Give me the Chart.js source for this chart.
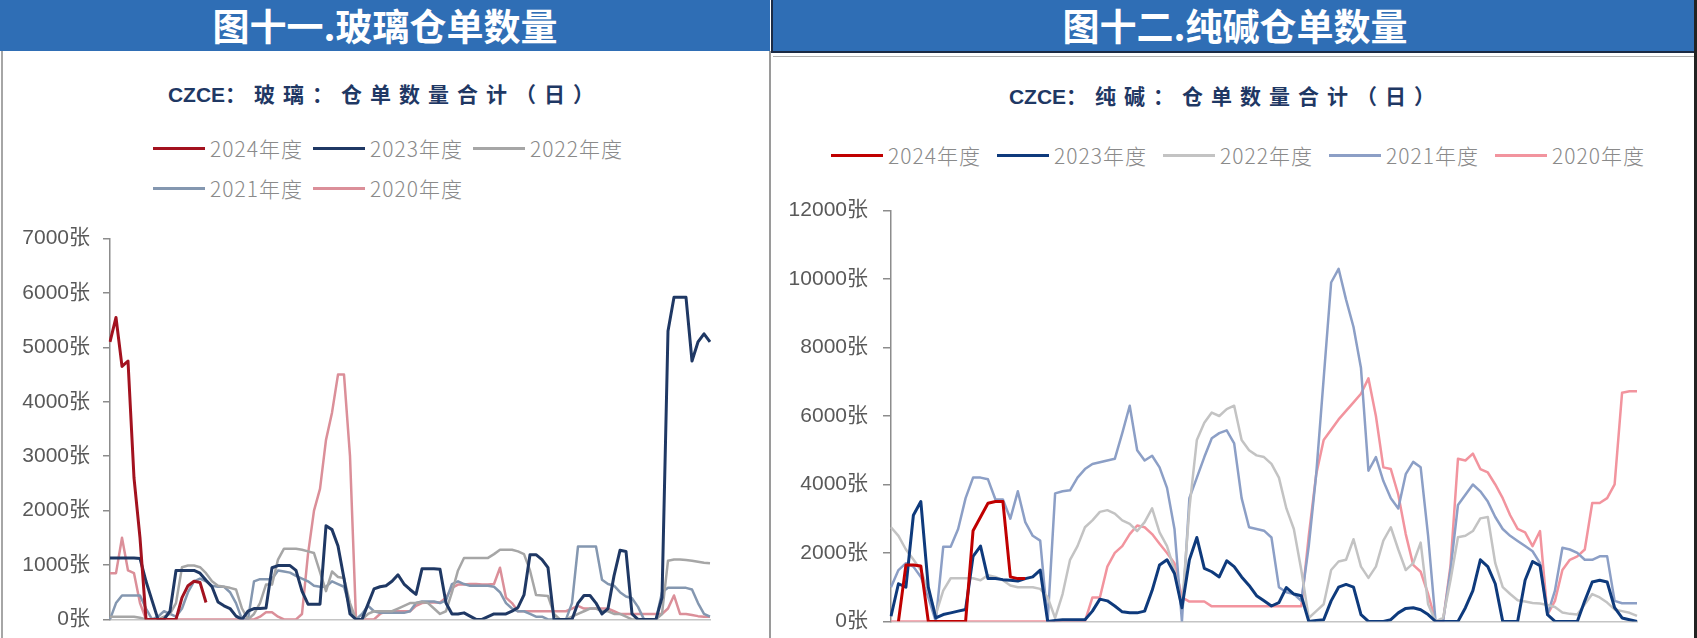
<!DOCTYPE html>
<html>
<head>
<meta charset="utf-8">
<script src="https://cdn.jsdelivr.net/npm/chart.js@4.4.1/dist/chart.umd.min.js"></script>
<style>
  html, body { margin: 0; padding: 0; background: #fff; }
  body { width: 1697px; height: 638px; overflow: hidden; position: relative; font-family: "Noto Sans CJK SC", sans-serif; }
  .hdr { position: absolute; top: 0; height: 51px; background: #2F6EB5; color: #fff; font-weight: 700; font-size: 37px; line-height: 51px; text-align: center; }
  .rule { position: absolute; }
  .ttl { position: absolute; text-align: center; color: #1F3864; font-weight: 700; font-size: 21px; letter-spacing: 8px; line-height: 26px; }
  .ttl .lat { letter-spacing: 0; font-family: "Liberation Sans", sans-serif; }
  .leg { position: absolute; display: flex; flex-wrap: wrap; }
  .leg .item { display: flex; align-items: center; height: 40px; color: #8a8a8a; font-size: 21px; font-weight: 300; letter-spacing: 1px; }
  .leg .mark { display: inline-block; width: 52px; height: 3px; margin-right: 5px; }
  canvas { position: absolute; }
</style>
</head>
<body>
<div class="hdr" style="left:0;width:770px;">图十一.玻璃仓单数量</div>
<div class="hdr" style="left:771px;width:924px;border-left:2px solid #1c2b45;border-bottom:2px solid #1c2b45;">图十二.纯碱仓单数量</div>
<div class="rule" style="left:1px;top:51px;width:2px;height:600px;background:#a6a6a6;"></div>
<div class="rule" style="left:769px;top:51px;width:2px;height:600px;background:#9a9a9a;"></div>
<div class="rule" style="left:773px;top:56px;width:921px;height:1px;background:#b0b0b0;"></div>
<div class="rule" style="left:1694px;top:0;width:3px;height:638px;background:#222;"></div>

<div class="ttl" style="left:0;width:770px;top:80px;"><span class="lat">CZCE</span>：玻璃：仓单数量合计（日）</div>
<div class="ttl" style="left:771px;width:910px;top:82px;"><span class="lat">CZCE</span>：纯碱：仓单数量合计（日）</div>

<canvas id="glass" width="767" height="432" style="left:3px;top:213px;width:767px;height:432px;"></canvas>
<canvas id="soda" width="922" height="466" style="left:773px;top:183px;width:922px;height:466px;"></canvas>

<div class="leg" id="legGlass" style="left:153px;top:128px;width:480px;"></div>
<div class="leg" id="legSoda" style="left:831px;top:135px;width:840px;"></div>

<script>
// x positions: evenly spaced sample points through the season (axis labels are cropped in the source)
const glassDays = Array.from({ length: 101 }, (_, i) => i + 1);
const sodaDays = Array.from({ length: 101 }, (_, i) => i + 1);

// 玻璃 仓单数量 (张)
const glass2024 = [5100, 5550, 4650, 4750, 2600, 1500, 0, 0, 0, 0,
  0, 0, 400, 620, 700, 680, 310];
const glass2023 = [1130, 1130, 1130, 1130, 1130, 1120, 700, 350, 0, 0,
  150, 900, 900, 900, 900, 850, 720, 600, 320, 250,
  200, 60, 0, 150, 200, 200, 210, 950, 990, 990,
  990, 900, 520, 280, 280, 280, 1720, 1650, 1350, 750,
  100, 0, 0, 280, 560, 600, 620, 700, 820, 650,
  550, 460, 930, 930, 930, 920, 300, 100, 100, 120,
  60, 0, 0, 50, 100, 100, 100, 150, 220, 450,
  1190, 1190, 1100, 950, 0, 0, 0, 0, 300, 440,
  440, 300, 100, 200, 800, 1270, 1250, 100, 0, 0,
  0, 0, 400, 5300, 5920, 5920, 5920, 4750, 5100, 5250, 5100];
const glass2022 = [50, 50, 50, 50, 50, 30, 0, 0, 0, 50,
  100, 300, 960, 990, 990, 960, 850, 700, 620, 600,
  580, 550, 200, 0, 100, 300, 640, 640, 1100, 1300,
  1300, 1300, 1280, 1250, 1220, 870, 520, 880, 780, 760,
  300, 0, 0, 100, 150, 150, 150, 150, 200, 250,
  300, 300, 320, 300, 200, 100, 150, 500, 900, 1130,
  1130, 1130, 1130, 1130, 1200, 1280, 1280, 1280, 1250, 1200,
  900, 450, 440, 430, 100, 0, 0, 50, 100, 150,
  200, 200, 150, 150, 100, 100, 50, 0, 0, 0,
  0, 0, 100, 1080, 1100, 1100, 1090, 1080, 1060, 1040, 1030];
const glass2021 = [0, 300, 440, 440, 440, 440, 200, 0, 50, 150,
  100, 50, 200, 500, 700, 750, 700, 620, 600, 600,
  500, 300, 0, 0, 700, 740, 740, 740, 900, 880,
  860, 800, 750, 700, 620, 600, 600, 700, 650, 600,
  200, 0, 100, 250, 150, 120, 120, 120, 120, 120,
  150, 300, 330, 330, 330, 300, 350, 650, 700, 650,
  620, 620, 620, 620, 600, 500, 300, 200, 150, 150,
  100, 50, 50, 0, 0, 0, 0, 300, 1340, 1340,
  1340, 1340, 730, 650, 620, 500, 420, 390, 230, 0,
  0, 0, 500, 580, 580, 580, 580, 550, 300, 100, 50];
const glass2020 = [850, 850, 1500, 900, 850, 300, 0, 0, 0, 0,
  0, 0, 0, 0, 0, 0, 0, 0, 0, 0,
  0, 0, 0, 0, 0, 50, 130, 130, 50, 0,
  0, 0, 100, 1200, 2000, 2400, 3300, 3800, 4500, 4500,
  3000, 0, 0, 0, 0, 100, 150, 150, 150, 150,
  150, 250, 300, 310, 310, 310, 400, 580, 640, 640,
  650, 650, 640, 640, 650, 950, 400, 300, 150, 150,
  150, 150, 150, 150, 150, 150, 150, 200, 250, 200,
  200, 200, 200, 200, 150, 100, 100, 100, 100, 100,
  100, 100, 100, 200, 440, 100, 100, 80, 60, 50, 50];

// 纯碱 仓单数量 (张)
const soda2024 = [null, 0, 1650, 1650, 1620, 0, 0, 0, 0, 0,
  0, 2650, 3050, 3450, 3500, 3500, 1300, 1250, 1250];
const soda2023 = [150, 1100, 1000, 3100, 3500, 1000, 100, 200, 250, 300,
  350, 1900, 2200, 1250, 1250, 1220, 1200, 1180, 1250, 1300,
  1500, 0, 30, 50, 50, 50, 50, 300, 650, 600,
  450, 280, 250, 250, 300, 900, 1650, 1800, 1400, 400,
  1800, 2450, 1550, 1450, 1300, 1770, 1600, 1300, 1050, 750,
  600, 450, 550, 990, 800, 750, 0, 30, 50, 600,
  1000, 1080, 1000, 200, 0, 0, 0, 50, 250, 380,
  400, 340, 200, 0, 0, 0, 0, 400, 900, 1800,
  1600, 1100, 0, 0, 0, 1200, 1750, 1630, 200, 0,
  0, 0, 0, 600, 1150, 1200, 1150, 400, 100, 50, 0];
const soda2022 = [2750, 2500, 2100, 1810, 1500, 900, 200, 900, 1260, 1260,
  1260, 1260, 1200, 1350, 1300, 1200, 1050, 1000, 1000, 1000,
  950, 700, 100, 800, 1800, 2200, 2750, 2950, 3200, 3250,
  3150, 2950, 2850, 2640, 2900, 3300, 2600, 2200, 1500, 400,
  3300, 5300, 5800, 6100, 6000, 6200, 6300, 5300, 5000, 4850,
  4800, 4600, 4200, 3300, 2700, 1500, 100, 300, 500, 1500,
  1750, 1800, 2400, 1600, 1270, 1600, 2360, 2750, 2100, 1500,
  1700, 2300, 500, 0, 100, 1200, 2460, 2500, 2640, 3010,
  3050, 1700, 1000, 800, 620, 580, 540, 520, 480, 420,
  260, 220, 200, 500, 800, 700, 550, 350, 300, 250, 160];
const soda2021 = [1000, 1500, 1700, 1600, 1300, 700, 0, 2180, 2180, 2700,
  3600, 4200, 4200, 4150, 3560, 3560, 3000, 3800, 2900, 2500,
  2360, 0, 3740, 3800, 3830, 4200, 4450, 4600, 4650, 4700,
  4750, 5500, 6300, 5000, 4700, 4840, 4500, 3900, 2700, 0,
  3600, 4200, 4800, 5350, 5500, 5580, 5200, 3600, 2750, 2700,
  2650, 2450, 1000, 850, 800, 600, 2200, 4300, 7100, 9900,
  10300, 9400, 8600, 7400, 4400, 4800, 4100, 3600, 3300, 4300,
  4660, 4500, 2500, 0, 0, 1500, 3400, 3700, 4000, 3800,
  3500, 3050, 2700, 2500, 2350, 2200, 2050, 1700, 200, 900,
  2150, 2100, 2000, 1800, 1800, 1900, 1900, 600, 530, 530, 530];
const soda2020 = [0, 0, 0, 0, 0, 0, 0, 0, 0, 0,
  0, 0, 0, 0, 0, 0, 0, 0, 0, 0,
  0, 0, 0, 0, 0, 0, 0, 700, 700, 1600,
  2000, 2200, 2550, 2800, 2750, 2550, 2270, 2000, 1700, 700,
  580, 580, 580, 440, 440, 440, 440, 440, 440, 440,
  440, 440, 440, 440, 440, 440, 2500, 4300, 5300, 5600,
  5900, 6150, 6400, 6650, 7100, 6000, 4500, 4450, 3700, 2550,
  1650, 1450, 800, 0, 0, 1630, 4750, 4700, 4900, 4450,
  4350, 4000, 3600, 3100, 2700, 2600, 2200, 2640, 200, 600,
  1500, 1800, 1900, 2100, 3460, 3460, 3600, 4000, 6680, 6720, 6720];

const seriesNames = ['2024年度', '2023年度', '2022年度', '2021年度', '2020年度'];

const glassSeries = [
  { data: glass2024, color: '#A3121F', width: 3 },
  { data: glass2023, color: '#1F3864', width: 3 },
  { data: glass2022, color: '#A6A6A6', width: 2.5 },
  { data: glass2021, color: '#8497B0', width: 2.5 },
  { data: glass2020, color: '#DB8F99', width: 2.5 }
];
const sodaSeries = [
  { data: soda2024, color: '#C00000', width: 3 },
  { data: soda2023, color: '#0E3A7C', width: 3 },
  { data: soda2022, color: '#C3C3C3', width: 2.5 },
  { data: soda2021, color: '#8C9FC6', width: 2.5 },
  { data: soda2020, color: '#F2949E', width: 2.5 }
];

const tickFont = { family: '"Liberation Sans", "Noto Sans CJK SC", sans-serif', size: 21 };

function makeChart(id, labels, series, yMax, yStep, axisWidth, padRight, tickLen, tickPad) {
  return new Chart(document.getElementById(id), {
    type: 'line',
    data: {
      labels: labels,
      datasets: series.map((s, i) => ({
        label: seriesNames[i],
        data: s.data,
        borderColor: s.color,
        backgroundColor: s.color,
        borderWidth: s.width,
        borderJoinStyle: 'round',
        pointRadius: 0,
        tension: 0,
        spanGaps: false
      }))
    },
    options: {
      responsive: false,
      animation: false,
      events: [],
      layout: { padding: { top: 20, right: padRight, bottom: 0, left: 0 } },
      plugins: { legend: { display: false }, tooltip: { enabled: false } },
      scales: {
        x: {
          ticks: { display: false },
          grid: { display: false },
          border: { color: '#c4c4c4', width: 1.5 },
          afterFit: s => { s.height = 10; }
        },
        y: {
          min: 0,
          max: yMax,
          ticks: { stepSize: yStep, padding: tickPad, color: '#595959', font: tickFont, callback: v => v + '张' },
          grid: { drawOnChartArea: false, tickLength: tickLen, color: '#8c8c8c', lineWidth: 1.5 },
          border: { color: '#8c8c8c', width: 1.5 },
          afterFit: s => { s.width = axisWidth; }
        }
      }
    }
  });
}

// legend rows are laid out like the source (left-aligned, wrapping), so it is built in HTML
function htmlLegend(chart, boxId, itemWidth) {
  const box = document.getElementById(boxId);
  chart.data.datasets.forEach(ds => {
    const item = document.createElement('span');
    item.className = 'item';
    item.style.width = itemWidth + 'px';
    const mark = document.createElement('span');
    mark.className = 'mark';
    mark.style.background = ds.borderColor;
    item.appendChild(mark);
    item.appendChild(document.createTextNode(ds.label));
    box.appendChild(item);
  });
}

const glassChart = makeChart('glass', glassDays, glassSeries, 7000, 1000, 107, 60, 7, 13);
const sodaChart = makeChart('soda', sodaDays, sodaSeries, 12000, 2000, 118, 58, 8, 15);
htmlLegend(glassChart, 'legGlass', 160);
htmlLegend(sodaChart, 'legSoda', 166);
</script>
</body>
</html>
